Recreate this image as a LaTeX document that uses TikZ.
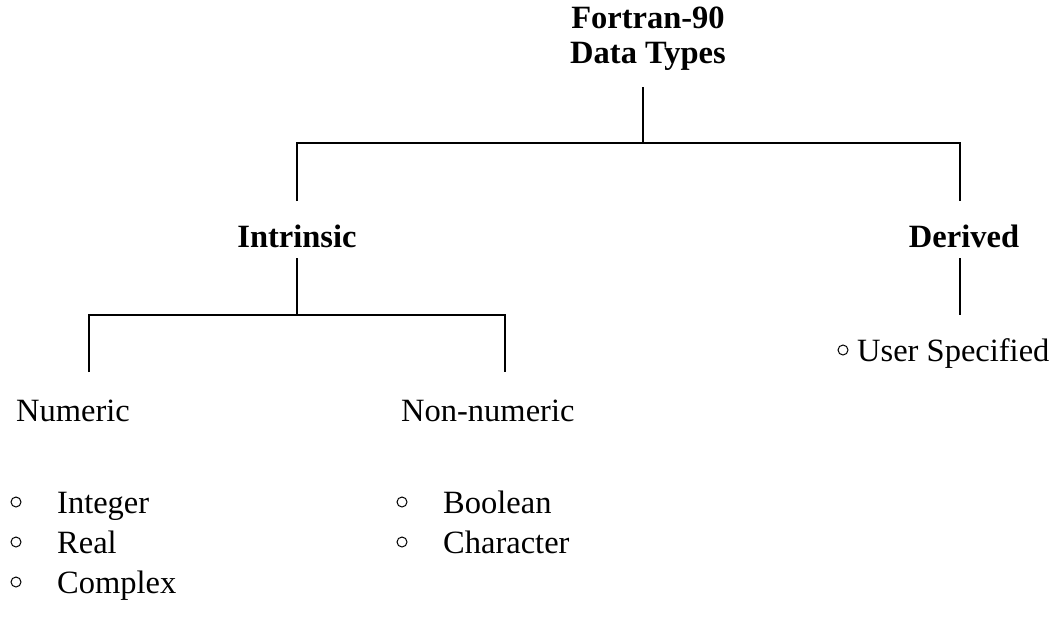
\documentclass[tikz,border=0pt]{standalone}
\usepackage{fontspec}
\setmainfont{Liberation Serif}
\begin{document}
\begin{tikzpicture}[x=1pt,y=-1pt,
  lbl/.style={inner sep=0pt,anchor=base,font=\fontsize{32.5}{38}\selectfont},
  lbll/.style={lbl,anchor=base west},
  head/.style={lbl,font=\fontsize{32.5}{38}\selectfont\bfseries},
  bul/.style={circle,draw,line width=1pt,minimum size=10pt,inner sep=0pt},
  conn/.style={line width=2pt}]
\useasboundingbox (0,0) rectangle (1055,629);
% headings
\node[head] (f1) at (648,28) {Fortran-90};
\node[head] (f2) at (648,63) {Data Types};
\node[head] (intr) at (297,247) {Intrinsic};
\node[head] (der) at (964,247) {Derived};
% sub labels
\node[lbll] (num) at (16,421) {Numeric};
\node[lbll] (non) at (401,421) {Non-numeric};
% user specified
\node[bul] (bu) at (843,350) {};
\node[lbll] (us) at (857,361) {User Specified};
% numeric items
\node[bul] (b1) at (16,502) {};
\node[lbll] (int) at (57,513) {Integer};
\node[bul] (b2) at (16,542) {};
\node[lbll] (real) at (57,553) {Real};
\node[bul] (b3) at (16,582) {};
\node[lbll] (cpx) at (57,593) {Complex};
% non-numeric items
\node[bul] (b4) at (402,502) {};
\node[lbll] (bool) at (443,513) {Boolean};
\node[bul] (b5) at (402,542) {};
\node[lbll] (chr) at (443,553) {Character};
% connector coordinates
\coordinate (t0) at (643,87);
\coordinate (t1) at (643,143);
\coordinate (tl) at (297,143);
\coordinate (tr) at (960,143);
\coordinate (tld) at (297,201);
\coordinate (trd) at (960,201);
\coordinate (i0) at (297,258);
\coordinate (i1) at (297,315);
\coordinate (il) at (89,315);
\coordinate (ir) at (505,315);
\coordinate (ild) at (89,372);
\coordinate (ird) at (505,372);
\coordinate (d0) at (960,258);
\coordinate (d1) at (960,315);
% connectors
\draw[conn] (t0) -- (t1);
\draw[conn] (tld) -- (tl) -- (tr) -- (trd);
\draw[conn] (i0) -- (i1);
\draw[conn] (ild) -- (il) -- (ir) -- (ird);
\draw[conn] (d0) -- (d1);
\end{tikzpicture}
\end{document}
